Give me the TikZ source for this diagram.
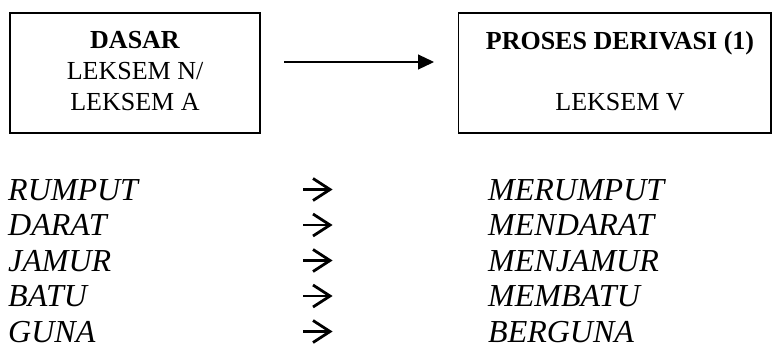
\documentclass[tikz,border=0pt]{standalone}
\usepackage{fontspec}
\setmainfont{Liberation Serif}
\usetikzlibrary{arrows.meta}
\begin{document}
\begin{tikzpicture}[x=1pt,y=-1pt,
  box/.style={draw, line width=1.2pt, inner sep=0pt},
  boxtxt/.style={inner sep=0pt, anchor=base, font=\fontsize{26}{30}\selectfont},
  boxhead/.style={inner sep=0pt, anchor=base, font=\fontsize{26}{30}\selectfont\bfseries},
  word/.style={inner sep=0pt, text depth=0pt, anchor=base west, font=\fontsize{32}{36}\selectfont\itshape},
  flow/.style={line width=1.2pt, -{Triangle[length=16pt,width=15pt]}},
  symarr/.pic={
    \draw[line width=2.6pt, line cap=butt] (0,0) -- (25,0);
    \draw[line width=2.8pt, line join=miter, line cap=butt] (10,-11) -- (27,0) -- (10,11);
  }]
\useasboundingbox (0,0) rectangle (773,349);
% boxes
\node[box, minimum width=250pt, minimum height=120pt] (b1) at (135,73) {};
\node[box, minimum width=312.5pt, minimum height=120pt] (b2) at (614.75,73) {};
\node[boxhead] (t1) at (135,48) {DASAR};
\node[boxtxt] (t2) at (135,79) {LEKSEM N/};
\node[boxtxt] (t3) at (135,110) {LEKSEM A};
\node[boxhead] (t4) at (620,49) {PROSES DERIVASI (1)};
\node[boxtxt] (t5) at (620,110) {LEKSEM V};
% main arrow
\coordinate (as) at (284,62);
\coordinate (ae) at (434,62);
\draw[flow] (as) -- (ae);
% word list
\node[word] (l1) at (8,200) {RUMPUT};
\node[word] (l2) at (8,235.5) {DARAT};
\node[word] (l3) at (8,271) {JAMUR};
\node[word] (l4) at (8,306.5) {BATU};
\node[word] (l5) at (8,342) {GUNA};
\node[word] (r1) at (488,200) {MERUMPUT};
\node[word] (r2) at (488,235.5) {MENDARAT};
\node[word] (r3) at (488,271) {MENJAMUR};
\node[word] (r4) at (488,306.5) {MEMBATU};
\node[word] (r5) at (488,342) {BERGUNA};
\pic (a1) at (303,189.5) {symarr};
\pic (a2) at (303,225) {symarr};
\pic (a3) at (303,260.5) {symarr};
\pic (a4) at (303,296) {symarr};
\pic (a5) at (303,331.5) {symarr};
\end{tikzpicture}
\end{document}
